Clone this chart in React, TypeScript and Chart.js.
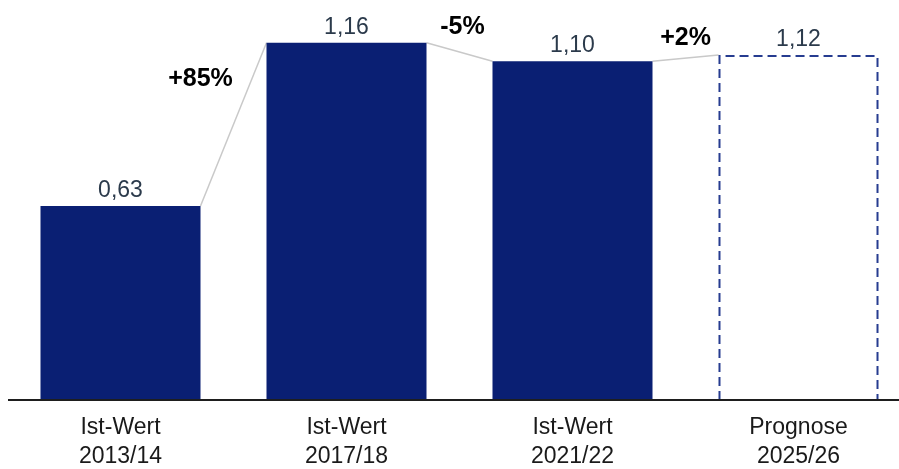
import React, { useEffect, useRef } from 'react';
import { Chart, registerables } from 'chart.js';

Chart.register(...registerables);

const categories: string[][] = [
  ['Ist-Wert', '2013/14'],
  ['Ist-Wert', '2017/18'],
  ['Ist-Wert', '2021/22'],
  ['Prognose', '2025/26'],
];
const values: number[] = [0.63, 1.16, 1.1, 1.12];
const valueLabels: string[] = ['0,63', '1,16', '1,10', '1,12'];
const changeLabels: string[] = ['+85%', '-5%', '+2%'];
const isForecast: boolean[] = [false, false, false, true];

const NAVY = '#0a1f73';
const DASH_BLUE = '#263c90';
const FONT = "'Liberation Sans', Arial, Helvetica, sans-serif";

const overlayPlugin = {
  id: 'overlay',
  beforeDatasetsDraw(chart: any) {
    const ctx = chart.ctx;
    const els = chart.getDatasetMeta(0).data;
    ctx.save();
    ctx.strokeStyle = '#c9c9c9';
    ctx.lineWidth = 1.5;
    for (let i = 0; i < els.length - 1; i++) {
      const a = els[i];
      const b = els[i + 1];
      ctx.beginPath();
      ctx.moveTo(a.x + a.width / 2, a.y);
      ctx.lineTo(b.x - b.width / 2, b.y);
      ctx.stroke();
    }
    ctx.restore();
  },
  afterDatasetsDraw(chart: any) {
    const ctx = chart.ctx;
    const els = chart.getDatasetMeta(0).data;
    ctx.save();
    // dashed forecast bars
    els.forEach((el: any, i: number) => {
      if (!isForecast[i]) return;
      const left = el.x - el.width / 2 + 1;
      const right = el.x + el.width / 2 - 1;
      const top = el.y + 1;
      const base = el.base;
      ctx.setLineDash([9, 5]);
      ctx.lineWidth = 2;
      ctx.strokeStyle = DASH_BLUE;
      ctx.beginPath();
      ctx.moveTo(left, base);
      ctx.lineTo(left, top);
      ctx.lineTo(right, top);
      ctx.lineTo(right, base);
      ctx.stroke();
    });
    ctx.setLineDash([]);
    // baseline
    const y0 = chart.scales.y.getPixelForValue(0);
    ctx.strokeStyle = '#1e1e1e';
    ctx.lineWidth = 2;
    ctx.beginPath();
    ctx.moveTo(8, y0);
    ctx.lineTo(chart.width, y0);
    ctx.stroke();
    // value labels
    ctx.font = `23px ${FONT}`;
    ctx.fillStyle = '#2b3a4b';
    ctx.textAlign = 'center';
    ctx.textBaseline = 'alphabetic';
    els.forEach((el: any, i: number) => {
      ctx.fillText(valueLabels[i], el.x, el.y - 9);
    });
    // change labels
    const offsets = [
      { dx: -33, dy: 43 },
      { dx: 3, dy: -9 },
      { dx: 0, dy: -10 },
    ];
    ctx.font = `bold 25px ${FONT}`;
    ctx.fillStyle = '#000000';
    for (let i = 0; i < els.length - 1; i++) {
      const a = els[i];
      const b = els[i + 1];
      const midX = (a.x + a.width / 2 + b.x - b.width / 2) / 2;
      const minTop = Math.min(a.y, b.y);
      ctx.fillText(changeLabels[i], midX + offsets[i].dx, minTop + offsets[i].dy);
    }
    ctx.restore();
  },
};

export default function App() {
  const canvasRef = useRef<HTMLCanvasElement | null>(null);

  useEffect(() => {
    if (!canvasRef.current) return;
    const chart = new Chart(canvasRef.current, {
      type: 'bar',
      data: {
        labels: categories as any,
        datasets: [
          {
            data: values,
            backgroundColor: isForecast.map((f) => (f ? 'rgba(0,0,0,0)' : NAVY)),
            borderWidth: 0,
            categoryPercentage: 0.708,
            barPercentage: 1,
            clip: false as any,
          },
        ],
      },
      options: {
        animation: false,
        responsive: false,
        maintainAspectRatio: false,
        layout: { padding: { left: 120.5, right: 100.5, top: 15, bottom: 0 } },
        plugins: { legend: { display: false }, tooltip: { enabled: false } },
        scales: {
          x: {
            offset: false,
            grid: { display: false, drawTicks: false },
            border: { display: false },
            ticks: {
              color: '#1a1a1a',
              font: { family: FONT, size: 23, lineHeight: 1.25 },
              padding: 13.5,
              autoSkip: false,
              maxRotation: 0,
            },
            afterFit: (scale: any) => {
              scale.height = 69;
            },
          },
          y: {
            display: false,
            min: 0,
            max: 1.25,
          },
        },
      },
      plugins: [overlayPlugin],
    });
    return () => chart.destroy();
  }, []);

  return (
    <div style={{ position: 'absolute', left: 0, top: 0, width: 899, height: 469 }}>
      <canvas ref={canvasRef} width={899} height={469} style={{ width: 899, height: 469 }} />
    </div>
  );
}
